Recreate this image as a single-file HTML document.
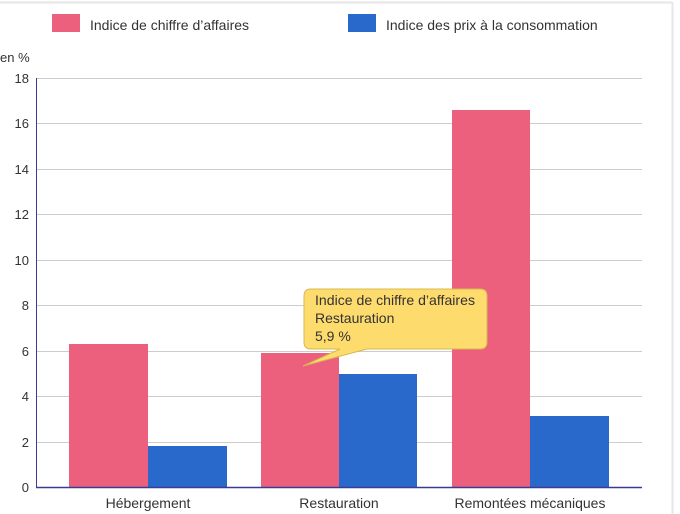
<!DOCTYPE html>
<html><head><meta charset="utf-8"><style>
html,body{margin:0;padding:0;background:#fff;}
svg{display:block;font-family:"Liberation Sans","DejaVu Sans",sans-serif;}
</style></head><body>
<svg width="680" height="514" viewBox="0 0 680 514" xmlns="http://www.w3.org/2000/svg">
<rect x="0" y="0" width="680" height="514" fill="#fff"/>
<line x1="0" y1="2.5" x2="672" y2="2.5" stroke="#e6e6e6" stroke-width="2"/>
<line x1="672.5" y1="2" x2="672.5" y2="514" stroke="#e6e6e6" stroke-width="2"/>
<!-- legend -->
<rect x="52" y="14" width="28" height="18" fill="#ec607e"/>
<text x="90" y="30" font-size="14" fill="#333">Indice de chiffre d’affaires</text>
<rect x="348" y="14" width="28" height="18" fill="#2a69cc"/>
<text x="386" y="30" font-size="14" fill="#333">Indice des prix à la consommation</text>
<text x="0" y="62" font-size="13" fill="#333">en %</text>
<!-- grid -->
<g stroke="#cccccc" stroke-width="1">
<line x1="36" y1="78.5" x2="642" y2="78.5"/>
<line x1="36" y1="123.5" x2="642" y2="123.5"/>
<line x1="36" y1="169.5" x2="642" y2="169.5"/>
<line x1="36" y1="214.5" x2="642" y2="214.5"/>
<line x1="36" y1="260.5" x2="642" y2="260.5"/>
<line x1="36" y1="305.5" x2="642" y2="305.5"/>
<line x1="36" y1="351.5" x2="642" y2="351.5"/>
<line x1="36" y1="396.5" x2="642" y2="396.5"/>
<line x1="36" y1="442.5" x2="642" y2="442.5"/>
</g>
<g font-size="13" fill="#333" text-anchor="end">
<text x="29" y="83">18</text><text x="29" y="128">16</text><text x="29" y="174">14</text>
<text x="29" y="219">12</text><text x="29" y="265">10</text><text x="29" y="310">8</text>
<text x="29" y="356">6</text><text x="29" y="401">4</text><text x="29" y="447">2</text>
<text x="29" y="492">0</text>
</g>
<!-- bars -->
<rect x="69" y="344" width="79" height="143" fill="#ec607e"/>
<rect x="148" y="446" width="79" height="41" fill="#2a69cc"/>
<rect x="261" y="353" width="78" height="134" fill="#ec607e"/>
<rect x="339" y="374" width="78" height="113" fill="#2a69cc"/>
<rect x="452" y="110" width="78" height="377" fill="#ec607e"/>
<rect x="530" y="416" width="79" height="71" fill="#2a69cc"/>
<!-- axes -->
<line x1="36.5" y1="78" x2="36.5" y2="488" stroke="#3b3b8f" stroke-width="1"/>
<line x1="36" y1="487.5" x2="642" y2="487.5" stroke="#3b3b8f" stroke-width="1.5"/>
<g font-size="14" fill="#333" text-anchor="middle">
<text x="148" y="508">Hébergement</text>
<text x="339" y="508">Restauration</text>
<text x="530" y="508">Remontées mécaniques</text>
</g>
<!-- tooltip -->
<path d="M311,289 H480 Q487,289 487,296 V342 Q487,349 480,349 H367 L303,366 L340,349 H311 Q304,349 304,342 V296 Q304,289 311,289 Z" fill="#fddb6d" stroke="#d9b84f" stroke-width="1"/>
<g font-size="14" fill="#333">
<text x="315" y="305" textLength="160" lengthAdjust="spacingAndGlyphs">Indice de chiffre d’affaires</text>
<text x="315" y="323">Restauration</text>
<text x="315" y="341">5,9 %</text>
</g>
</svg>
</body></html>
